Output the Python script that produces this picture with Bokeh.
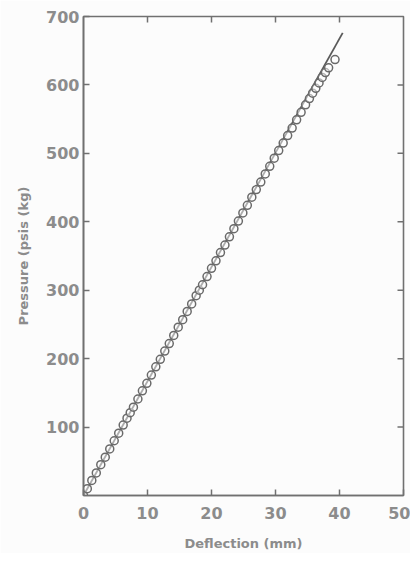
import math
from bokeh.plotting import figure
from bokeh.models import Range1d, FixedTicker
from bokeh.embed import file_html
from bokeh.resources import INLINE

# measured points (deflection mm, pressure kg)
deflection = [0.0, 0.6, 1.3, 2.0, 2.7, 3.4, 4.1, 4.8, 5.5, 6.2, 6.8, 7.3, 7.8, 8.5, 9.2,
              9.9, 10.6, 11.3, 12.0, 12.7, 13.4, 14.1, 14.8, 15.5, 16.2, 16.9, 17.6, 18.1,
              18.6, 19.3, 20.0, 20.7, 21.4, 22.1, 22.8, 23.5, 24.2, 24.9, 25.6, 26.3, 27.0,
              27.7, 28.4, 29.1, 29.8, 30.5, 31.2, 31.9, 32.6, 33.3, 34.0, 34.7, 35.3, 35.8,
              36.3, 36.8, 37.3, 37.8, 38.3, 39.3]
pressure = [0, 10, 22, 33, 45, 56, 68, 80, 91, 103, 113, 121, 129, 141, 153,
            164, 176, 188, 199, 211, 222, 234, 246, 257, 269, 280, 292, 300,
            308, 320, 332, 343, 355, 366, 378, 390, 401, 413, 424, 436, 447,
            458, 470, 481, 493, 504, 515, 526, 537, 549, 560, 571, 580, 588,
            595, 603, 611, 618, 625, 637]

# fitted line
fit_x = [0.0, 40.5]
fit_y = [0, 676]

x_ticks = [0, 10, 20, 30, 40, 50]
y_ticks = [100, 200, 300, 400, 500, 600, 700]
top_ticks = [10, 20, 30, 40]
right_ticks = [100, 200, 300, 400, 500, 600]
X_MAX, Y_MAX = 50, 700

GRAY = "#707070"
TXT = "#8c8c8c"

p = figure(width=410, height=553, output_backend="svg", toolbar_location=None,
           x_range=Range1d(0, X_MAX), y_range=Range1d(0, Y_MAX),
           min_border_left=83, min_border_right=7, min_border_top=16, min_border_bottom=55,
           background_fill_color="#fcfcfc", border_fill_color="#fcfcfc")
p.grid.visible = False
p.outline_line_color = GRAY
p.outline_line_width = 1.6

p.line(fit_x, fit_y, line_color="#5a5a5a", line_width=1.8)
p.scatter(deflection, pressure, marker="circle", size=8, fill_color="white",
          fill_alpha=0.5, line_color="#6a6a6a", line_width=1.5)

# inward ticks on top and right frame edges
p.ray(x=top_ticks, y=[Y_MAX] * len(top_ticks), length=6, length_units="screen",
      angle=-math.pi / 2, line_color=GRAY, line_width=1.5)
p.ray(x=[X_MAX] * len(right_ticks), y=right_ticks, length=6, length_units="screen",
      angle=math.pi, line_color=GRAY, line_width=1.5)

for ax in (p.xaxis[0], p.yaxis[0]):
    ax.axis_line_color = GRAY
    ax.axis_line_width = 1.6
    ax.major_tick_line_color = GRAY
    ax.major_tick_line_width = 1.5
    ax.major_tick_in = 6
    ax.major_tick_out = 0
    ax.minor_tick_line_color = None
    ax.major_label_text_color = TXT
    ax.major_label_text_font = "DejaVu Sans"
    ax.major_label_text_font_style = "bold"
    ax.major_label_text_font_size = "16px"
    ax.axis_label_text_color = TXT
    ax.axis_label_text_font = "DejaVu Sans"
    ax.axis_label_text_font_style = "bold"

p.xaxis[0].ticker = FixedTicker(ticks=x_ticks)
p.xaxis[0].axis_label = "Deflection (mm)"
p.xaxis[0].axis_label_text_font_size = "13px"
p.xaxis[0].major_label_standoff = 11
p.xaxis[0].axis_label_standoff = 14
p.yaxis[0].ticker = FixedTicker(ticks=y_ticks)
p.yaxis[0].axis_label = "Pressure (psis (kg)"
p.yaxis[0].axis_label_text_font_size = "13px"
p.yaxis[0].major_label_standoff = 4
p.yaxis[0].axis_label_standoff = 12

open("out.html", "w").write(file_html(p, INLINE))
